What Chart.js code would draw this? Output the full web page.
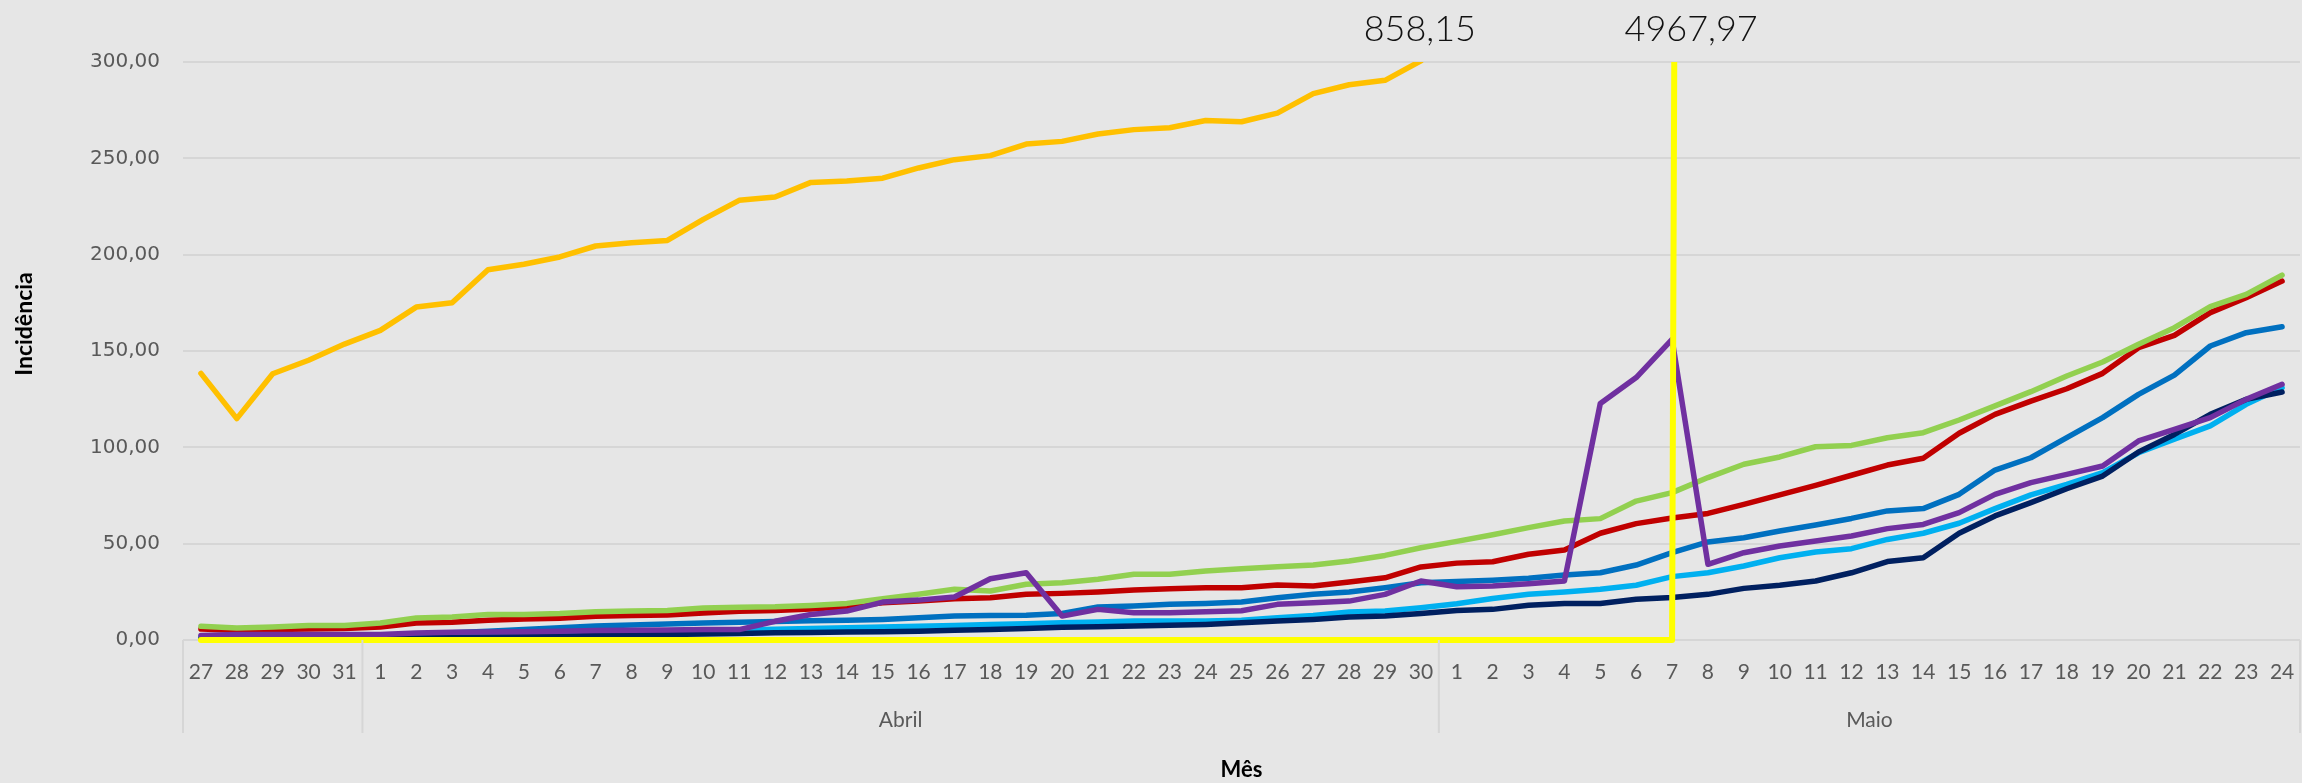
<!DOCTYPE html>
<html>
<head>
<meta charset="utf-8">
<script src="https://cdn.jsdelivr.net/npm/chart.js@4"></script>
<style>
  html, body { margin: 0; padding: 0; background: #e6e6e6; }
  canvas { display: block; }
</style>
</head>
<body>
<canvas id="grafico" width="2302" height="783"></canvas>
<script>
// dias: 27-31 março, abril, 1-24 maio
const dias = ['27','28','29','30','31',
  '1','2','3','4','5','6','7','8','9','10','11','12','13','14','15','16','17','18','19','20','21','22','23','24','25','26','27','28','29','30',
  '1','2','3','4','5','6','7','8','9','10','11','12','13','14','15','16','17','18','19','20','21','22','23','24'];
const meses = ['', 'Abril', 'Maio'];
const diasPorMes = [5, 30, 24];

const yTicks = [0, 50, 100, 150, 200, 250, 300];

const serieOuro = [138.4,114.9,138.2,145.2,153.6,160.7,172.8,175,192.2,195,198.8,204.5,206.2,207.4,218.3,228.2,229.9,237.5,238.2,239.7,
  245,249.3,251.4,257.4,258.8,262.6,264.9,265.9,269.6,269,273.5,283.6,288.2,290.5,300.6,
  null,null,null,null,null,null,null,null,null,null,null,null,null,null,null,null,null,null,null,null,null,null,null,null];
const serieVerde = [7.1,6.2,6.8,7.5,7.5,8.8,11.4,12,13.2,13.3,13.7,14.7,15.1,15.3,16.6,17,17.2,17.9,19,21.4,
  23.7,26.3,25.4,28.9,29.7,31.5,34.1,34.1,35.8,37,38,38.9,41,43.9,47.9,
  51.2,54.6,58.3,61.8,63,72.1,76.5,84.3,91.2,95,100.3,101,105,107.6,114.2,121.5,128.9,137,144.3,153.5,162.1,173,179.4,189.4];
const serieVermelha = [5.7,5,5.4,5.7,6,6.8,8.8,9.2,10.2,10.9,11.3,12.3,12.7,13,14,14.9,15.3,16.1,17.2,19.3,
  20.2,21.4,21.9,23.7,24.2,24.9,25.9,26.6,27.1,27.1,28.5,28,30.1,32.3,37.9,
  39.9,40.6,44.5,46.7,55.4,60.4,63.3,65.7,70.4,75.3,80.3,85.5,90.8,94.3,107.3,117.1,124,130.4,138.4,151.7,158.1,169.9,177.7,186.3];
const serieAzul = [1.5,1.5,1.6,1.7,1.8,2,3,3.8,4.5,5.5,6.3,7.3,7.8,8.3,8.8,9.2,9.6,10,10.3,10.7,
  11.5,12.4,12.7,12.9,13.8,17.1,17.6,18.5,19,19.7,21.9,23.7,24.9,27.1,29.7,
  30.3,31,32,33.7,34.9,38.9,45.3,50.9,53.1,56.6,59.7,63.1,67,68.2,75.6,88.2,94.6,105,115.4,127.5,137.5,152.6,159.5,162.6];
const serieAzulClaro = [0.8,0.8,0.9,1,1.1,1.3,1.6,2,2.3,2.6,3,3.4,3.8,4.3,4.8,5.2,5.6,6,6.3,6.8,
  7.2,7.5,8.1,8.4,8.9,9.3,9.8,9.8,9.8,10.3,11.5,12.7,14.5,15,16.7,
  18.8,21.5,23.7,24.9,26.3,28.4,32.9,34.9,38.4,42.7,45.7,47.4,52.2,55.4,60.6,68.2,75.3,80.8,86.9,97.2,104.2,111.1,122.3,131];
const serieMarinho = [0.5,0.5,0.6,0.7,0.8,0.9,1.1,1.3,1.5,1.7,2,2.3,2.6,2.9,3.1,3.4,3.7,3.9,4.1,4.3,
  4.6,5,5.5,6,6.6,6.9,7.3,7.6,8.1,9,9.8,10.7,11.9,12.4,13.8,
  15.3,15.9,18,19,19,21.1,22,23.7,26.8,28.4,30.6,34.9,40.7,42.7,55.4,64.4,71.3,78.5,85.1,97.6,106.7,117.1,124.9,128.7];
const serieRoxa = [2.4,2.8,2.8,2.8,2.8,2.8,3.6,4,4.2,4.3,4.5,4.9,5,5.2,5.4,5.4,9.7,13.2,15,19.7,
  20.7,22.3,31.8,34.9,12.4,15.9,14.1,14.1,14.6,15.2,18.5,19.3,20.2,23.7,30.6,
  27.6,28,29.2,30.6,122.8,136.2,156,39.3,45.3,48.8,51.4,54,57.8,60,66.1,75.6,81.7,86,90.3,103.3,109.3,115.4,124.9,132.7];
const serieAmarela = [0,0,0,0,0,0,0,0,0,0,0,0,0,0,0,0,0,0,0,0,
  0,0,0,0,0,0,0,0,0,0,0,0,0,0,0,
  0,0,0,0,0,0,0,4967.97,null,null,null,null,null,null,null,null,null,null,null,null,null,null,null,null];

// valores que saem do gráfico (rótulos no topo)
const picoOuro = 858.15;
const picoAmarelo = 4967.97;

function fmt(v) {
  return v.toFixed(2).replace('.', ',');
}

function linha(data, cor, largura) {
  return {
    data: data,
    borderColor: cor,
    backgroundColor: cor,
    borderWidth: largura,
    pointRadius: 0,
    tension: 0,
    borderJoinStyle: 'round',
    borderCapStyle: 'round',
    clip: { left: 10, top: 0, right: 10, bottom: 10 }
  };
}

// fundo, separadores dos meses, títulos e rótulos de topo
const extras = {
  id: 'extras',
  beforeDraw(chart) {
    const ctx = chart.ctx;
    ctx.save();
    ctx.fillStyle = '#e6e6e6';
    ctx.fillRect(0, 0, chart.width, chart.height);
    ctx.restore();
  },
  afterDraw(chart) {
    const ctx = chart.ctx;
    const a = chart.chartArea;
    const x = chart.scales.x;
    const yMax = chart.scales.y.max;
    ctx.save();

    // separadores e nomes dos meses
    ctx.strokeStyle = '#d6d6d6';
    ctx.lineWidth = 2;
    let inicio = 0;
    let px0 = x.getPixelForValue(-0.5);
    ctx.beginPath();
    ctx.moveTo(px0, a.bottom);
    ctx.lineTo(px0, 733);
    ctx.stroke();
    ctx.font = '21px Lato, "Open Sans", sans-serif';
    ctx.fillStyle = '#595959';
    ctx.textAlign = 'center';
    ctx.textBaseline = 'middle';
    meses.forEach(function(m, i) {
      const fim = inicio + diasPorMes[i];
      const px1 = x.getPixelForValue(fim - 0.5);
      ctx.beginPath();
      ctx.moveTo(px1, a.bottom);
      ctx.lineTo(px1, 733);
      ctx.stroke();
      if (m) ctx.fillText(m, (px0 + px1) / 2, 720);
      inicio = fim;
      px0 = px1;
    });

    // títulos dos eixos
    ctx.fillStyle = '#000';
    ctx.font = 'bold 22px Lato, "Open Sans", sans-serif';
    ctx.fillText('Mês', (a.left + a.right) / 2, 770);
    ctx.save();
    ctx.translate(25, 324);
    ctx.rotate(-Math.PI / 2);
    ctx.font = 'bold 23px Lato, "Open Sans", sans-serif';
    ctx.fillText('Incidência', 0, 0);
    ctx.restore();

    // rótulos dos valores fora da escala: entre o ponto onde a linha sai do topo e o último ponto
    ctx.font = '300 36px Lato, "Open Sans", sans-serif';
    ctx.fillStyle = '#111';
    [[serieOuro, picoOuro], [serieAmarela, picoAmarelo]].forEach(function(par) {
      const d = par[0];
      let ult = 0;
      d.forEach(function(v, i) { if (v !== null) ult = i; });
      const t = (yMax - d[ult - 1]) / (d[ult] - d[ult - 1]);
      const saida = ult - 1 + t;
      ctx.fillText(fmt(par[1]), x.getPixelForValue((saida + ult) / 2), 29);
    });
    ctx.restore();
  }
};

new Chart(document.getElementById('grafico'), {
  type: 'line',
  data: {
    labels: dias,
    datasets: [
      linha(serieAmarela, '#ffff00', 6),
      linha(serieRoxa, '#7030a0', 5.5),
      linha(serieMarinho, '#002060', 5.5),
      linha(serieAzulClaro, '#00b0f0', 5.5),
      linha(serieAzul, '#0070c0', 5.5),
      linha(serieVerde, '#92d050', 5.5),
      linha(serieVermelha, '#c00000', 5.5),
      linha(serieOuro, '#ffc000', 5.5)
    ]
  },
  options: {
    responsive: false,
    devicePixelRatio: 1,
    animation: false,
    layout: { padding: { left: 0, top: 62, right: 2, bottom: 0 } },
    plugins: {
      legend: { display: false },
      tooltip: { enabled: false }
    },
    scales: {
      x: {
        offset: true,
        grid: { display: false, drawTicks: false },
        border: { display: false },
        ticks: {
          autoSkip: false,
          maxRotation: 0,
          padding: 20,
          color: '#595959',
          font: { family: 'Lato, "Open Sans", sans-serif', size: 21 }
        },
        afterFit: function(s) {
          s.height = 143;
          s.paddingLeft = 0;
          s.paddingRight = 0;
        }
      },
      y: {
        min: yTicks[0],
        max: yTicks[yTicks.length - 1],
        afterBuildTicks: function(s) { s.ticks = yTicks.map(function(v) { return { value: v }; }); },
        grid: { color: '#d6d6d6', lineWidth: 2, drawTicks: false },
        border: { display: false },
        ticks: {
          padding: 23,
          color: '#595959',
          font: { family: '"DejaVu Sans", sans-serif', size: 20 },
          callback: function(v) { return fmt(v); }
        },
        afterFit: function(s) {
          s.width = 183;
          s.paddingTop = 0;
          s.paddingBottom = 0;
        }
      }
    }
  },
  plugins: [extras]
});
</script>
</body>
</html>
